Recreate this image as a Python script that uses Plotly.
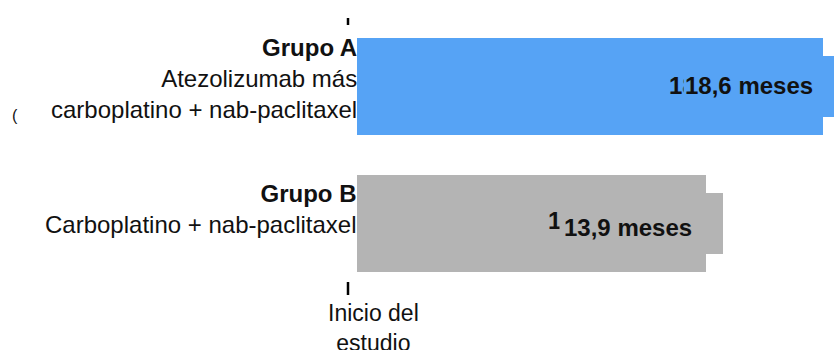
import plotly.graph_objects as go

# ---- data ----
groups = ["Grupo A", "Grupo B"]
treatments = ["Atezolizumab más<br>carboplatino + nab-paclitaxel", "Carboplatino + nab-paclitaxel"]
median_months = [18.6, 13.9]
tip_months = [19.6, 14.6]
value_labels = ["18,6 meses", "13,9 meses"]
bar_colors = ["#56A3F5", "#B4B4B4"]
start_label = "Inicio del<br>estudio"

FONT = "Arial, Liberation Sans, sans-serif"
ypos = list(range(len(groups)))

fig = go.Figure()
fig.add_trace(go.Bar(
    y=ypos, x=median_months, orientation="h", width=0.708,
    marker=dict(color=bar_colors, line=dict(width=0)), hoverinfo="skip",
))
fig.add_trace(go.Bar(
    y=ypos, x=tip_months, orientation="h", width=0.445,
    marker=dict(color=bar_colors, line=dict(width=0)), hoverinfo="skip",
))

annotations = []
label_shift = [8, 15]
for i, (g, t) in enumerate(zip(groups, treatments)):
    annotations.append(dict(
        xref="paper", yref="y", x=0, y=ypos[i], xanchor="right", yanchor="middle",
        xshift=2, yshift=label_shift[i], align="right", showarrow=False,
        text=f"<b>{g}</b><br>{t}",
        font=dict(family=FONT, size=24, color="#111111"),
    ))

under_shift = [(-24, 1), (-28, 3)]
top_shift = [(-8, 1), (-12, -4)]
top_pad = [1, 4]
for i, lab in enumerate(value_labels):
    annotations.append(dict(
        xref="x", yref="y", x=median_months[i], y=ypos[i], xanchor="right", yanchor="middle",
        xshift=under_shift[i][0], yshift=under_shift[i][1], showarrow=False,
        text=f"<b>{lab}</b>", font=dict(family=FONT, size=24, color="#111111"),
    ))
for i, lab in enumerate(value_labels):
    annotations.append(dict(
        xref="x", yref="y", x=median_months[i], y=ypos[i], xanchor="right", yanchor="middle",
        xshift=top_shift[i][0] + (top_pad[i] - 1), yshift=top_shift[i][1], showarrow=False,
        text=f"<b>{lab}</b>", font=dict(family=FONT, size=24, color="#111111"),
        bgcolor=bar_colors[i], borderpad=top_pad[i],
    ))

annotations.append(dict(
    xref="paper", yref="paper", x=(373 - 357) / 477, y=1 - 328 / 350,
    xanchor="center", yanchor="middle", showarrow=False, align="center",
    text=start_label, font=dict(family=FONT, size=23, color="#111111"),
))
annotations.append(dict(
    xref="paper", yref="paper", x=(15 - 357) / 477, y=1 - 115.5 / 350,
    xanchor="center", yanchor="middle", showarrow=False,
    text="(", font=dict(family=FONT, size=16, color="#111111"),
))

tick_x = (348 - 357) / 477
shapes = [
    dict(type="line", xref="paper", yref="paper", x0=tick_x, x1=tick_x,
         y0=1 - 18 / 350, y1=1 - 25 / 350, line=dict(color="#000000", width=2.5)),
    dict(type="line", xref="paper", yref="paper", x0=tick_x, x1=tick_x,
         y0=1 - 282 / 350, y1=1 - 295 / 350, line=dict(color="#000000", width=2.5)),
]

fig.update_layout(
    width=834, height=350,
    margin=dict(l=357, r=0, t=0, b=0),
    paper_bgcolor="white", plot_bgcolor="white",
    barmode="overlay", bargap=0, showlegend=False,
    xaxis=dict(range=[0, 477 / 25.08], visible=False, fixedrange=True),
    yaxis=dict(range=[(350 - 86.5) / 137, -86.5 / 137], visible=False, fixedrange=True),
    annotations=annotations, shapes=shapes,
    font=dict(family=FONT),
)

fig.write_html("out.html")
